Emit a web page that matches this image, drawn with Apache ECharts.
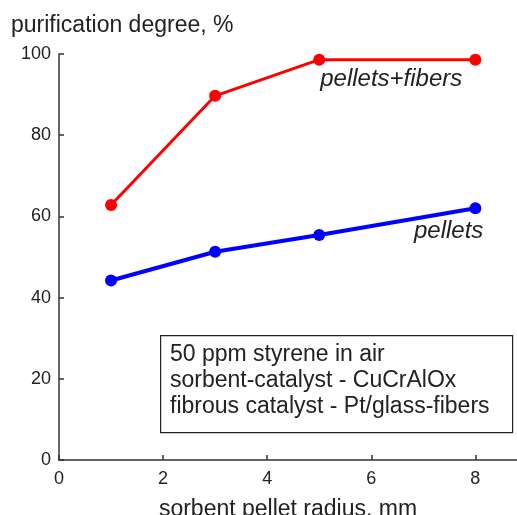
<!DOCTYPE html>
<html>
<head>
<meta charset="utf-8">
<script src="https://cdn.jsdelivr.net/npm/echarts@6/dist/echarts.min.js"></script>
<style>
  html, body { margin: 0; padding: 0; background: #fff; }
  #chart { width: 517px; height: 515px; }
</style>
</head>
<body>
<div id="chart"></div>
<script>
// Sorbent pellet radius, mm
const radius = [1, 3, 5, 8];
// Purification degree, %
const pelletsFibers = [62.8, 89.7, 98.6, 98.6];
const pellets = [44.2, 51.3, 55.4, 62.0];
const xTicks = [0, 2, 4, 6, 8];
const yTicks = [0, 20, 40, 60, 80, 100];
const noteLines = [
  '50 ppm styrene in air',
  'sorbent-catalyst - CuCrAlOx',
  'fibrous catalyst - Pt/glass-fibers'
];

const FONT = '"Liberation Sans", Arial, sans-serif';
const TXT = '#222';

function points(ys, labelIdx, labelText, labelOpts) {
  return radius.map((x, i) => {
    const item = { value: [x, ys[i]] };
    if (i === labelIdx) {
      item.label = Object.assign({
        show: true,
        formatter: labelText,
        fontStyle: 'italic',
        fontFamily: FONT,
        fontSize: 24,
        color: TXT
      }, labelOpts);
    }
    return item;
  });
}

const chart = echarts.init(document.getElementById('chart'), null, { renderer: 'canvas' });
chart.setOption({
  animation: false,
  backgroundColor: '#fff',
  textStyle: { fontFamily: FONT },
  title: {
    text: 'purification degree, %',
    left: 11,
    top: 14,
    padding: 0,
    textStyle: { fontFamily: FONT, fontSize: 23, fontWeight: 'normal', color: TXT }
  },
  grid: {
    left: 59, right: 0, top: 54, bottom: 55,
    containLabel: false,
    outerBoundsMode: 'none'
  },
  xAxis: {
    type: 'value',
    min: xTicks[0],
    max: 8.8,
    interval: 2,
    name: 'sorbent pellet radius, mm',
    nameLocation: 'middle',
    nameGap: 38,
    nameTextStyle: { fontFamily: FONT, fontSize: 23, color: TXT },
    axisLine: { lineStyle: { color: '#333', width: 1.5 } },
    axisTick: { inside: true, length: 5, lineStyle: { color: '#333', width: 1.5 } },
    axisLabel: {
      showMaxLabel: false,
      margin: 10,
      fontFamily: FONT, fontSize: 18, color: TXT,
      formatter: v => (xTicks.indexOf(v) >= 0 ? String(v) : '')
    },
    splitLine: { show: false }
  },
  yAxis: {
    type: 'value',
    min: yTicks[0],
    max: yTicks[yTicks.length - 1],
    interval: 20,
    axisLine: { show: true, lineStyle: { color: '#333', width: 1.5 } },
    axisTick: { show: true, inside: true, length: 5, lineStyle: { color: '#333', width: 1.5 } },
    axisLabel: { margin: 8, fontFamily: FONT, fontSize: 18, color: TXT },
    splitLine: { show: false }
  },
  series: [
    {
      name: 'pellets+fibers',
      type: 'line',
      data: points(pelletsFibers, 2, 'pellets+fibers', { position: 'bottom', align: 'left', offset: [1, -3] }),
      symbol: 'circle',
      symbolSize: 12,
      lineStyle: { color: '#ff0000', width: 3 },
      itemStyle: { color: '#ff0000' },
      z: 3
    },
    {
      name: 'pellets',
      type: 'line',
      data: points(pellets, 3, 'pellets', { position: 'bottom', align: 'right', offset: [8, 0] }),
      symbol: 'circle',
      symbolSize: 12,
      lineStyle: { color: '#0000ff', width: 4 },
      itemStyle: { color: '#0000ff' },
      z: 3
    }
  ],
  graphic: [
    {
      type: 'rect',
      left: 160,
      top: 335,
      shape: { width: 352, height: 97 },
      style: { fill: '#fff', stroke: '#222', lineWidth: 1.2 },
      z: 10
    },
    {
      type: 'text',
      left: 170,
      top: 342,
      style: {
        text: noteLines.join('\n'),
        font: '23px ' + FONT,
        lineHeight: 26,
        fill: TXT
      },
      z: 11
    }
  ]
});
</script>
</body>
</html>
